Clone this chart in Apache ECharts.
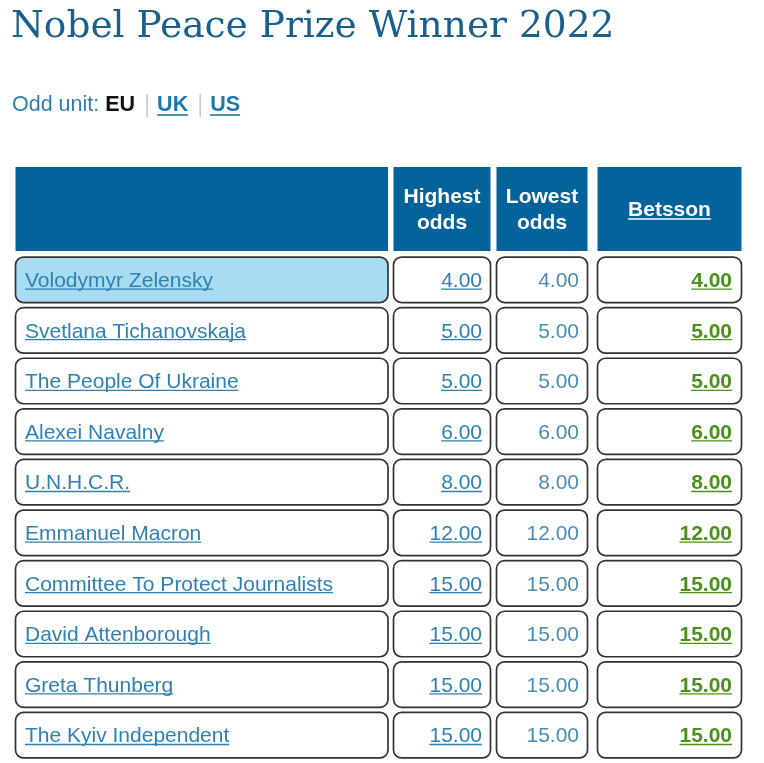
<!DOCTYPE html>
<html>
<head>
<meta charset="utf-8">
<title>Nobel Peace Prize Winner 2022</title>
<script src="https://cdn.jsdelivr.net/npm/echarts@6.0.0/dist/echarts.min.js"></script>
<style>
    html, body { margin: 0; padding: 0; background: #fff; }
    #main { width: 764px; height: 763px; }
</style>
</head>
<body>
<div id="main"></div>
<script>
// data
var titleText = 'Nobel Peace Prize Winner 2022';
var oddUnits = ['EU', 'UK', 'US'];
var headers = ['', 'Highest\nodds', 'Lowest\nodds', 'Betsson'];
var names = ['Volodymyr Zelensky', 'Svetlana Tichanovskaja', 'The People Of Ukraine', 'Alexei Navalny',
    'U.N.H.C.R.', 'Emmanuel Macron', 'Committee To Protect Journalists', 'David Attenborough',
    'Greta Thunberg', 'The Kyiv Independent'];
var highest = [4, 5, 5, 6, 8, 12, 15, 15, 15, 15];
var lowest = [4, 5, 5, 6, 8, 12, 15, 15, 15, 15];
var betsson = [4, 5, 5, 6, 8, 12, 15, 15, 15, 15];

// layout / styles
var cols = [[15.5, 388], [393.5, 490.5], [496.5, 587.5], [597.5, 741.5]];
var headTop = 167, headBottom = 251;
var blueHead = '#04639b';
var linkBlue = '#2f80b3';
var plainBlue = '#4a8db6';
var green = '#4b911c';
var cellFont = '21px "Liberation Sans", Arial, sans-serif';
var cellBold = 'bold 21px "Liberation Sans", Arial, sans-serif';

var ctx = document.createElement('canvas').getContext('2d');
function measure(font, str) {
    ctx.font = font;
    return ctx.measureText(str).width;
}

// text with an underline under it (align left or right at x), y = row centre
function linkText(str, x, y, font, color, align, underline) {
    var w = measure(font, str);
    var x0 = align === 'right' ? x - w : (align === 'center' ? x - w / 2 : x);
    var els = [{
        type: 'text',
        style: { text: str, x: x, y: y + 1.5, font: font, fill: color, align: align, verticalAlign: 'middle' }
    }];
    if (underline) {
        els.push({
            type: 'line',
            shape: { x1: x0, y1: y + 9.3, x2: x0 + w, y2: y + 9.3 },
            style: { stroke: color, lineWidth: 1.3 }
        });
    }
    return els;
}

function cellRect(c, top, h, fill) {
    return {
        type: 'rect',
        shape: { x: cols[c][0], y: top, width: cols[c][1] - cols[c][0], height: h, r: 8 },
        style: { fill: fill, stroke: '#333', lineWidth: 1.7 }
    };
}

function renderRow(params, api) {
    var i = api.value(1);
    var center = api.coord([0, i])[1];
    var band = api.size([0, 1])[1];
    var h = band - 5.1;
    var top = center - h / 2;
    var y = center;
    var children = [];
    children.push(cellRect(0, top, h, i === 0 ? '#a7dcf2' : '#fff'));
    children.push(cellRect(1, top, h, '#fff'));
    children.push(cellRect(2, top, h, '#fff'));
    children.push(cellRect(3, top, h, '#fff'));
    children = children.concat(linkText(names[i], 25, y, cellFont, linkBlue, 'left', true));
    children = children.concat(linkText(highest[i].toFixed(2), cols[1][1] - 8.5, y, cellFont, linkBlue, 'right', true));
    children = children.concat(linkText(lowest[i].toFixed(2), cols[2][1] - 8.5, y, cellFont, plainBlue, 'right', false));
    children = children.concat(linkText(betsson[i].toFixed(2), cols[3][1] - 9.5, y, cellBold, green, 'right', true));
    return { type: 'group', children: children };
}

// header, title, odd unit line
function buildGraphic() {
    var g = [];
    g.push({
        type: 'text',
        style: { text: titleText, x: 11, y: 27, font: '37.5px "DejaVu Serif", serif', fill: '#1a5f8e', verticalAlign: 'middle' }
    });
    // odd unit line
    var unitFont = '21.5px "Liberation Sans", Arial, sans-serif';
    var unitBold = 'bold 21.5px "Liberation Sans", Arial, sans-serif';
    var x = 12, y = 105;
    g.push({ type: 'text', style: { text: 'Odd unit:', x: x, y: y, font: unitFont, fill: '#2f7fae', verticalAlign: 'middle' } });
    x += measure(unitFont, 'Odd unit:') + 6;
    oddUnits.forEach(function (u, k) {
        if (k > 0) {
            g.push({ type: 'line', shape: { x1: x + 4, y1: y - 11, x2: x + 4, y2: y + 12 }, style: { stroke: '#b8b8b8', lineWidth: 1.2 } });
            x += 14;
        }
        var w = measure(unitBold, u);
        g.push({ type: 'text', style: { text: u, x: x, y: y, font: unitBold, fill: k === 0 ? '#111' : '#1d78b0', verticalAlign: 'middle' } });
        if (k > 0) {
            g.push({ type: 'line', shape: { x1: x, y1: y + 10, x2: x + w, y2: y + 10 }, style: { stroke: '#1d78b0', lineWidth: 1.6 } });
        }
        x += w + 8;
    });
    // header cells
    var headFont = 'bold 21px "Liberation Sans", Arial, sans-serif';
    headers.forEach(function (hd, c) {
        var x0 = cols[c][0], x1 = cols[c][1];
        g.push({ type: 'rect', shape: { x: x0, y: headTop, width: x1 - x0, height: headBottom - headTop }, style: { fill: blueHead } });
        if (!hd) return;
        var cx = (x0 + x1) / 2, cy = (headTop + headBottom) / 2;
        g.push({
            type: 'text',
            style: { text: hd, x: cx, y: cy + 1, font: headFont, fill: '#fff', align: 'center', verticalAlign: 'middle', lineHeight: 26 }
        });
        if (c === 3) {
            var w = measure(headFont, hd);
            g.push({ type: 'line', shape: { x1: cx - w / 2, y1: cy + 10, x2: cx + w / 2, y2: cy + 10 }, style: { stroke: '#fff', lineWidth: 1.6 } });
        }
    });
    return g;
}

var chart = echarts.init(document.getElementById('main'), null, { renderer: 'canvas' });
var option = {
    backgroundColor: '#fff',
    animation: false,
    grid: { left: 0, right: 0, top: 254.5, height: 506 },
    xAxis: { type: 'value', min: 0, max: 764, show: false },
    yAxis: { type: 'category', data: names, inverse: true, show: false },
    graphic: buildGraphic(),
    series: [{
        type: 'custom',
        renderItem: renderRow,
        encode: { x: 0, y: 1 },
        data: names.map(function (n, i) { return [0, i]; })
    }]
};
chart.setOption(option);
</script>
</body>
</html>
